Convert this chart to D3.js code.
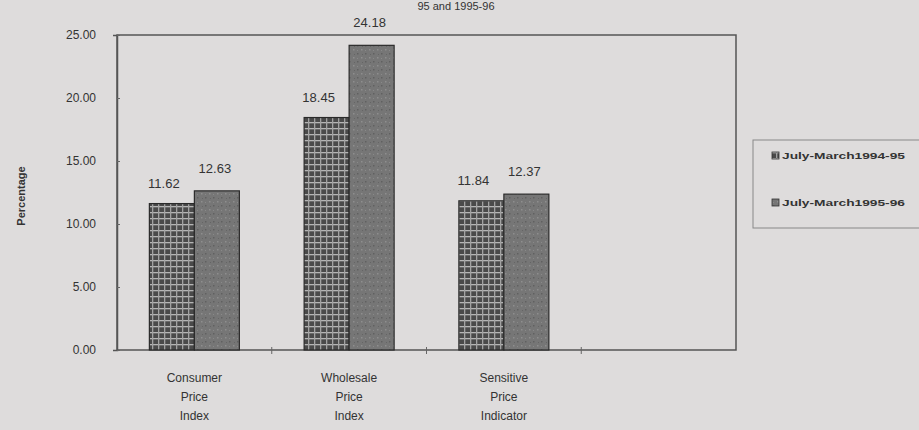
<!DOCTYPE html>
<html><head><meta charset="utf-8">
<script src="https://cdn.jsdelivr.net/npm/d3@7/dist/d3.min.js"></script>
<style>
html,body{margin:0;padding:0;background:#dedcdc;}
svg{display:block;}
text{font-family:"Liberation Sans",Arial,sans-serif;fill:#333;}
</style></head><body>
<script>
const categories = [["Consumer","Price","Index"],["Wholesale","Price","Index"],["Sensitive","Price","Indicator"],[""]];
const seriesNames = ["July-March 1994-95","July-March 1995-96"];
const values1995 = [11.62, 18.45, 11.84];
const values1996 = [12.63, 24.18, 12.37];
const yTicks = [0,5,10,15,20,25];

const W=919,H=430;
const svg=d3.select("body").append("svg").attr("width",W).attr("height",H);
const defs=svg.append("defs");
const p1=defs.append("pattern").attr("id","plaid").attr("patternUnits","userSpaceOnUse").attr("width",6).attr("height",6);
p1.append("rect").attr("width",6).attr("height",6).attr("fill","#4a4a4a");
p1.append("rect").attr("x",0).attr("y",2).attr("width",6).attr("height",1.3).attr("fill","#b5b5b5");
p1.append("rect").attr("x",2).attr("y",0).attr("width",1.3).attr("height",6).attr("fill","#a2a2a2");
const p2=defs.append("pattern").attr("id","speck").attr("patternUnits","userSpaceOnUse").attr("width",8).attr("height",8);
p2.append("rect").attr("width",8).attr("height",8).attr("fill","#767676");
p2.append("rect").attr("x",1).attr("y",1).attr("width",1.5).attr("height",1.5).attr("fill","#8e8e8e");
p2.append("rect").attr("x",5).attr("y",5).attr("width",1.5).attr("height",1.5).attr("fill","#606060");
p2.append("rect").attr("x",5).attr("y",2).attr("width",1).attr("height",1).attr("fill","#898989");
p2.append("rect").attr("x",2).attr("y",6).attr("width",1).attr("height",1).attr("fill","#656565");

const m={l:117,r:736,t:35,b:350};
const x=d3.scaleBand().domain(d3.range(categories.length)).range([m.l,m.r]);
const y=d3.scaleLinear().domain([0,25]).range([m.b,m.t]);
const bw=45;

svg.append("text").attr("x",456).attr("y",10).attr("text-anchor","middle").attr("font-size",11).text("95 and 1995-96");

svg.append("rect").attr("x",m.l).attr("y",m.t).attr("width",m.r-m.l).attr("height",m.b-m.t)
  .attr("fill","none").attr("stroke","#555").attr("stroke-width",1.5);

const data=values1995.map((v,i)=>({i,v1:v,v2:values1996[i]}));
const g=svg.append("g");
data.forEach(d=>{
  const cx=x(d.i)+x.bandwidth()/2;
  g.append("rect").attr("x",cx-bw).attr("y",y(d.v1)).attr("width",bw).attr("height",y(0)-y(d.v1))
    .attr("fill","url(#plaid)").attr("stroke","#2a2a2a").attr("stroke-width",1.2);
  g.append("rect").attr("x",cx).attr("y",y(d.v2)).attr("width",bw).attr("height",y(0)-y(d.v2))
    .attr("fill","url(#speck)").attr("stroke","#2a2a2a").attr("stroke-width",1.2);
  g.append("text").attr("x",cx-bw/2-8).attr("y",y(d.v1)-16).attr("text-anchor","middle").attr("font-size",13).text(d.v1.toFixed(2));
  g.append("text").attr("x",cx+bw/2-2).attr("y",y(d.v2)-18).attr("text-anchor","middle").attr("font-size",13).text(d.v2.toFixed(2));
});

const ya=svg.append("g").attr("transform",`translate(${m.l},0)`)
  .call(d3.axisLeft(y).tickValues(yTicks).tickFormat(d3.format(".2f")).tickSize(4));
ya.select(".domain").attr("stroke","#555").attr("stroke-width",1.5);
ya.selectAll(".tick line").attr("stroke","#666").attr("x2",3);
ya.selectAll(".tick text").attr("x",-21).attr("font-size",12).attr("fill","#333").attr("font-family","Liberation Sans, Arial, sans-serif");

const xb=svg.append("g");
d3.range(1,categories.length).forEach(i=>{
  xb.append("line").attr("x1",x(i)).attr("x2",x(i)).attr("y1",m.b-3).attr("y2",m.b+4).attr("stroke","#666");
});
categories.forEach((c,i)=>{
  const t=xb.append("text").attr("x",x(i)+x.bandwidth()/2).attr("y",382).attr("text-anchor","middle").attr("font-size",12);
  c.forEach((s,k)=>t.append("tspan").attr("x",x(i)+x.bandwidth()/2).attr("dy",k?19:0).text(s));
});

svg.append("text").attr("transform","translate(25,196) rotate(-90)").attr("text-anchor","middle")
  .attr("font-size",11).attr("font-weight","bold").text("Percentage");

const lg=svg.append("g");
lg.append("rect").attr("x",753).attr("y",140).attr("width",170).attr("height",88).attr("fill","none").attr("stroke","#888").attr("stroke-width",1);
seriesNames.forEach((s,i)=>{
  const yy=i?206:159;
  lg.append("rect").attr("x",772).attr("y",yy-7).attr("width",7).attr("height",7)
    .attr("fill",i?"url(#speck)":"url(#plaid)").attr("stroke","#333").attr("stroke-width",0.8);
  lg.append("text").attr("x",782).attr("y",yy).attr("font-size",9.5).attr("font-weight","bold").attr("fill","#444")
    .attr("textLength",123).attr("lengthAdjust","spacingAndGlyphs").text(s.replace(" 19","19"));
});
</script>
</body></html>
